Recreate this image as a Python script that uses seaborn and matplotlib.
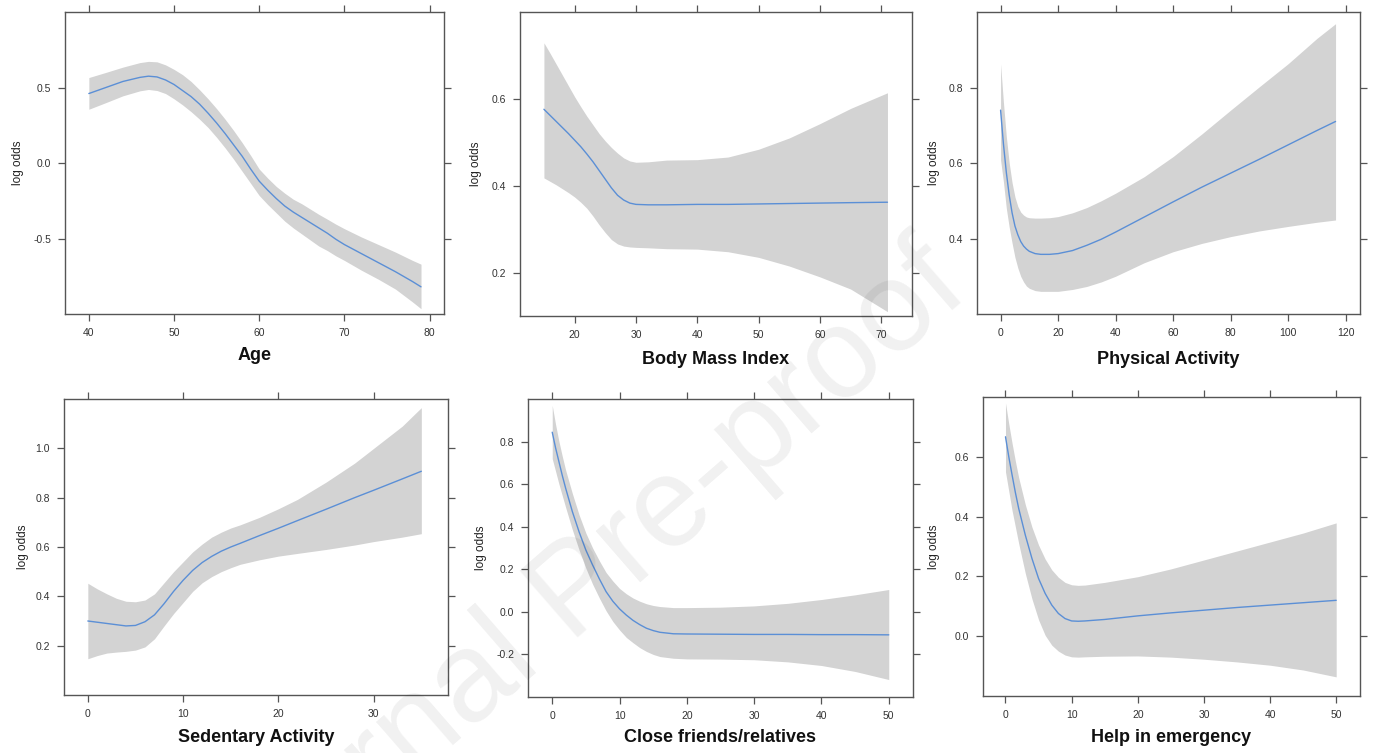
import numpy as np
import pandas as pd
import matplotlib
matplotlib.use("Agg")
import matplotlib.pyplot as plt
import seaborn as sns

sns.set_theme(style="white")
plt.rcParams['font.family'] = ['Liberation Sans', 'DejaVu Sans']

# ---------------- data ----------------
age_x = [40, 42, 44, 46, 47, 48, 49, 50, 51, 52, 53, 54, 55, 56, 57, 58, 59, 60,
         61, 62, 63, 64, 65, 66, 67, 68, 69, 70, 72, 74, 76, 78, 79]
age_fit = [0.46, 0.50, 0.54, 0.567, 0.575, 0.57, 0.55, 0.52, 0.48, 0.44, 0.39, 0.33, 0.265,
           0.195, 0.12, 0.045, -0.04, -0.12, -0.18, -0.235, -0.285, -0.325, -0.36, -0.395,
           -0.43, -0.465, -0.505, -0.54, -0.60, -0.66, -0.72, -0.785, -0.82]
age_hi = [0.566, 0.60, 0.635, 0.665, 0.673, 0.67, 0.65, 0.62, 0.585, 0.54, 0.485, 0.425, 0.36,
          0.29, 0.215, 0.135, 0.05, -0.04, -0.1, -0.155, -0.2, -0.24, -0.27, -0.305, -0.34,
          -0.372, -0.405, -0.435, -0.49, -0.54, -0.59, -0.645, -0.67]
age_lo = [0.356, 0.40, 0.445, 0.478, 0.487, 0.48, 0.46, 0.425, 0.385, 0.34, 0.29, 0.235, 0.17,
          0.1, 0.025, -0.055, -0.135, -0.215, -0.275, -0.33, -0.385, -0.43, -0.47, -0.51,
          -0.55, -0.58, -0.615, -0.645, -0.71, -0.77, -0.835, -0.92, -0.965]

bmi_x = [15, 16, 17, 18, 19, 20, 21, 22, 23, 24, 25, 26, 27, 28, 29, 30, 32, 35, 40,
         45, 50, 55, 60, 65, 71]
bmi_fit = [0.576, 0.562, 0.548, 0.534, 0.52, 0.505, 0.49, 0.473, 0.455, 0.435, 0.415, 0.395,
           0.378, 0.367, 0.36, 0.357, 0.356, 0.356, 0.357, 0.357, 0.358, 0.359, 0.36, 0.361, 0.362]
bmi_hi = [0.729, 0.705, 0.68, 0.655, 0.63, 0.605, 0.582, 0.56, 0.54, 0.52, 0.503, 0.488,
          0.475, 0.464, 0.457, 0.454, 0.455, 0.459, 0.46, 0.466, 0.484, 0.51, 0.543, 0.578, 0.614]
bmi_lo = [0.418, 0.41, 0.402, 0.393, 0.384, 0.374, 0.362, 0.348, 0.33, 0.31, 0.292, 0.276,
          0.266, 0.261, 0.259, 0.258, 0.257, 0.255, 0.254, 0.248, 0.235, 0.215, 0.19, 0.162, 0.11]

pa_x = [0, 1, 2, 3, 4, 5, 6, 7, 8, 9, 10, 12, 14, 17, 20, 25, 30, 35, 40, 50, 60, 70,
        80, 90, 100, 110, 116.5]
pa_fit = [0.74, 0.65, 0.575, 0.515, 0.468, 0.433, 0.41, 0.392, 0.38, 0.372, 0.366, 0.36,
          0.358, 0.358, 0.36, 0.368, 0.382, 0.398, 0.417, 0.457, 0.497, 0.536, 0.573, 0.61,
          0.648, 0.686, 0.71]
pa_hi = [0.863, 0.76, 0.67, 0.6, 0.548, 0.51, 0.485, 0.47, 0.462, 0.457, 0.455, 0.454,
         0.454, 0.455, 0.458, 0.468, 0.482, 0.5, 0.52, 0.564, 0.617, 0.677, 0.74, 0.802,
         0.863, 0.93, 0.969]
pa_lo = [0.608, 0.55, 0.48, 0.43, 0.388, 0.35, 0.322, 0.3, 0.285, 0.274, 0.268, 0.262,
         0.26, 0.26, 0.26, 0.265, 0.273, 0.285, 0.3, 0.336, 0.365, 0.387, 0.405, 0.42,
         0.432, 0.443, 0.449]

sed_x = [0, 1, 2, 3, 4, 5, 6, 7, 8, 9, 10, 11, 12, 13, 14, 15, 16, 18, 20, 22, 25, 28,
         30, 33, 35]
sed_fit = [0.3, 0.295, 0.29, 0.285, 0.28, 0.282, 0.297, 0.325, 0.37, 0.42, 0.465, 0.505,
           0.537, 0.562, 0.583, 0.6, 0.615, 0.646, 0.676, 0.707, 0.753, 0.8, 0.83, 0.876, 0.907]
sed_hi = [0.453, 0.43, 0.41, 0.392, 0.38, 0.378, 0.385, 0.41, 0.455, 0.5, 0.54, 0.58, 0.612,
          0.64, 0.66, 0.677, 0.69, 0.72, 0.755, 0.793, 0.863, 0.94, 1.0, 1.09, 1.165]
sed_lo = [0.147, 0.16, 0.17, 0.174, 0.177, 0.182, 0.195, 0.228, 0.28, 0.33, 0.375, 0.42,
          0.455, 0.48, 0.5, 0.516, 0.53, 0.548, 0.563, 0.574, 0.59, 0.608, 0.622, 0.64, 0.654]

cf_x = [0, 0.5, 1, 1.5, 2, 3, 4, 5, 6, 7, 8, 9, 10, 11, 12, 13, 14, 15, 16, 18, 20, 25,
        30, 35, 40, 45, 50]
cf_fit = [0.844, 0.77, 0.705, 0.64, 0.58, 0.47, 0.375, 0.29, 0.22, 0.155, 0.095, 0.05,
          0.014, -0.015, -0.04, -0.06, -0.077, -0.088, -0.096, -0.103, -0.104, -0.105,
          -0.106, -0.106, -0.107, -0.107, -0.108]
cf_hi = [0.97, 0.88, 0.8, 0.73, 0.665, 0.555, 0.455, 0.37, 0.3, 0.24, 0.185, 0.145, 0.11,
         0.085, 0.065, 0.05, 0.038, 0.03, 0.025, 0.02, 0.02, 0.022, 0.028, 0.04, 0.058,
         0.08, 0.105]
cf_lo = [0.72, 0.66, 0.6, 0.545, 0.49, 0.385, 0.29, 0.205, 0.13, 0.065, 0.005, -0.045,
         -0.085, -0.12, -0.145, -0.168, -0.186, -0.2, -0.21, -0.218, -0.221, -0.222,
         -0.225, -0.235, -0.252, -0.28, -0.318]

he_x = [0, 0.5, 1, 1.5, 2, 3, 4, 5, 6, 7, 8, 9, 10, 11, 12, 15, 20, 25, 30, 35, 40, 45, 50]
he_fit = [0.667, 0.6, 0.539, 0.48, 0.427, 0.338, 0.26, 0.193, 0.143, 0.104, 0.076, 0.059,
          0.051, 0.05, 0.051, 0.056, 0.068, 0.078, 0.087, 0.096, 0.104, 0.112, 0.12]
he_hi = [0.78, 0.71, 0.645, 0.585, 0.53, 0.44, 0.365, 0.305, 0.258, 0.222, 0.197, 0.18,
         0.172, 0.17, 0.171, 0.18, 0.199, 0.225, 0.255, 0.285, 0.315, 0.345, 0.379]
he_lo = [0.55, 0.485, 0.42, 0.365, 0.31, 0.21, 0.125, 0.055, 0.003, -0.03, -0.05, -0.063,
         -0.069, -0.07, -0.069, -0.067, -0.066, -0.07, -0.077, -0.086, -0.097, -0.113, -0.136]

titles = ["Age", "Body Mass Index", "Physical Activity",
          "Sedentary Activity", "Close friends/relatives", "Help in emergency"]
series = [(age_x, age_fit, age_lo, age_hi), (bmi_x, bmi_fit, bmi_lo, bmi_hi),
          (pa_x, pa_fit, pa_lo, pa_hi), (sed_x, sed_fit, sed_lo, sed_hi),
          (cf_x, cf_fit, cf_lo, cf_hi), (he_x, he_fit, he_lo, he_hi)]
x_ticks = [[40, 50, 60, 70, 80], [20, 30, 40, 50, 60, 70], [0, 20, 40, 60, 80, 100, 120],
           [0, 10, 20, 30], [0, 10, 20, 30, 40, 50], [0, 10, 20, 30, 40, 50]]
y_ticks = [[-0.5, 0.0, 0.5], [0.2, 0.4, 0.6], [0.4, 0.6, 0.8],
           [0.2, 0.4, 0.6, 0.8, 1.0], [-0.2, 0.0, 0.2, 0.4, 0.6, 0.8], [0.0, 0.2, 0.4, 0.6]]

# ---------------- layout / style ----------------
W, H = 1376, 753
xlims = [(37.2, 81.7), (11.1, 75.0), (-8.2, 125.0), (-2.5, 37.8), (-3.6, 53.6), (-3.4, 53.6)]
ylims = [(-1.0, 1.0), (0.1, 0.8), (0.2, 1.0), (0.0, 1.2), (-0.4, 1.0), (-0.2, 0.8)]
boxes = [(65, 444, 12, 314), (520, 912, 12, 316), (977, 1360, 12, 314),
         (64, 448, 399, 695), (528, 913, 399, 697), (983, 1360, 397, 696)]
ylab_x = [18, 476, 934, 23, 481, 934]
xlab_y = [356, 359, 360, 738, 738, 738]

band_color = "#d3d3d3"
line_color = "#5b8fd6"
frame_color = "#555555"

fig = plt.figure(figsize=(W / 100, H / 100), dpi=100)
fig.patch.set_facecolor("white")

for i in range(6):
    l, r, t, b = boxes[i]
    ax = fig.add_axes([l / W, 1 - b / H, (r - l) / W, (b - t) / H])
    xs, fit, lo, hi = series[i]
    ax.fill_between(xs, lo, hi, color=band_color, linewidth=0, zorder=1)
    df = pd.DataFrame({"x": xs, "y": fit})
    sns.lineplot(data=df, x="x", y="y", ax=ax, color=line_color, linewidth=1.0, zorder=2)
    ax.set_xlim(*xlims[i])
    ax.set_ylim(*ylims[i])
    ax.set_xticks(x_ticks[i])
    ax.set_yticks(y_ticks[i])
    ax.set_xticklabels([str(v) for v in x_ticks[i]])
    ax.set_yticklabels([f"{v:.1f}" for v in y_ticks[i]])
    ax.tick_params(axis="both", which="both", direction="out", length=5, width=0.9,
                   color=frame_color, labelsize=7.5, labelcolor="#333333",
                   top=True, right=True, bottom=True, left=True,
                   labeltop=False, labelright=False, pad=5)
    for s in ax.spines.values():
        s.set_visible(True)
        s.set_color(frame_color)
        s.set_linewidth(1.0)
    ax.set_xlabel("")
    ax.set_ylabel("")
    ax.set_facecolor("white")
    fig.text(ylab_x[i] / W, 1 - ((t + b) / 2) / H, "log odds", rotation=90,
             ha="center", va="center", fontsize=8.5, color="#222222")
    fig.text(((l + r) / 2) / W, 1 - xlab_y[i] / H, titles[i], ha="center", va="center",
             fontsize=13, fontweight="bold", color="#111111")

# faint watermark
fig.text(972 / W, 1 - 295 / H, "Journal Pre-proof", rotation=41, rotation_mode="anchor",
         ha="right", va="baseline", fontsize=92, color="black", alpha=0.06, zorder=10)

fig.savefig("out.png", dpi=100, facecolor="white")
